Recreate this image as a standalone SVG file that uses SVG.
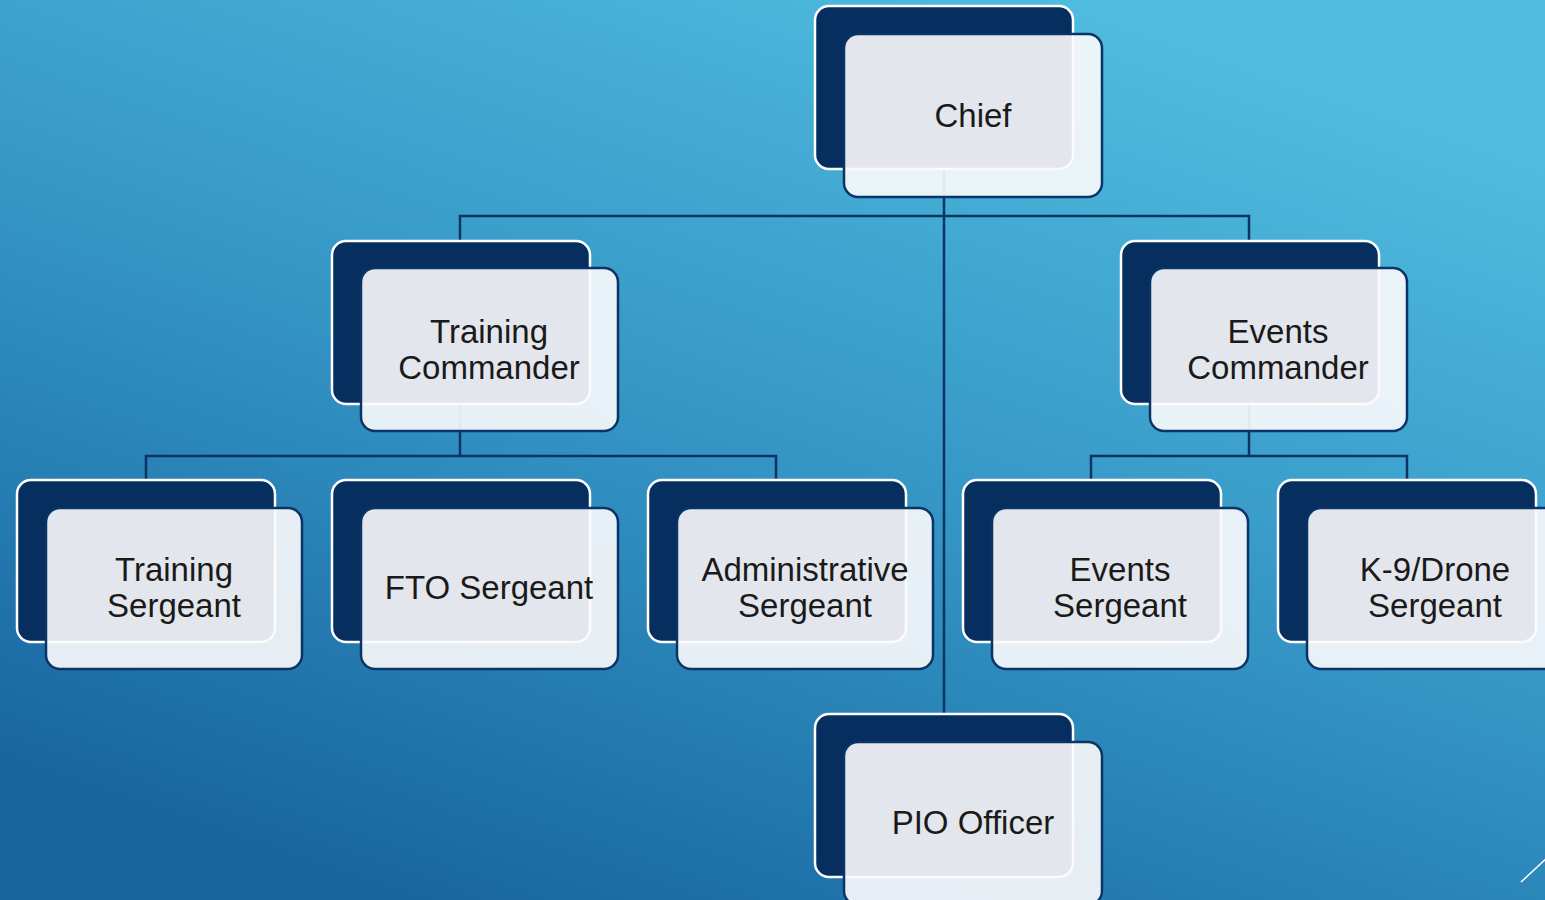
<svg xmlns="http://www.w3.org/2000/svg" width="1545" height="900" viewBox="0 0 1545 900">
  <defs>
    <linearGradient id="bg" gradientUnits="userSpaceOnUse" x1="950" y1="-60" x2="600" y2="960">
      <stop offset="0" stop-color="#50bddf"/>
      <stop offset="0.5" stop-color="#3596c6"/>
      <stop offset="1" stop-color="#1866a0"/>
    </linearGradient>
    <style>
      .back { fill: #062e5f; stroke: #ffffff; stroke-width: 2.5; }
      .front { fill: rgb(252,251,252); fill-opacity: 0.9; stroke: #0a3466; stroke-width: 2.5; }
      .lbl { font-family: "Liberation Sans", Arial, sans-serif; font-size: 33px; fill: #1a1a1a; text-anchor: middle; }
      .conn { fill: none; stroke: #0b3463; stroke-width: 2.5; }
    </style>
  </defs>

  <rect x="0" y="0" width="1545" height="900" fill="url(#bg)"/>
  <line x1="1521" y1="882" x2="1560" y2="846" stroke="#ffffff" stroke-width="1.5"/>

  <!-- reporting lines -->
  <g id="connectors">
    <path class="conn" d="M944 170 V713"/>
    <path class="conn" d="M460 241 V216 H1249 V241"/>
    <path class="conn" d="M460 404 V456"/>
    <path class="conn" d="M146 480 V456 H776 V480"/>
    <path class="conn" d="M1249 404 V456"/>
    <path class="conn" d="M1091 480 V456 H1407 V480"/>
  </g>

  <g id="chief">
    <rect class="back" x="815" y="6" width="258" height="163" rx="14"/>
    <rect class="front" x="844" y="34" width="258" height="163" rx="14"/>
    <text class="lbl" x="973" y="127">Chief</text>
  </g>

  <g id="training-commander">
    <rect class="back" x="332" y="241" width="258" height="163" rx="14"/>
    <rect class="front" x="361" y="268" width="257" height="163" rx="14"/>
    <text class="lbl" x="489" y="343">Training</text>
    <text class="lbl" x="489" y="379">Commander</text>
  </g>

  <g id="events-commander">
    <rect class="back" x="1121" y="241" width="258" height="163" rx="14"/>
    <rect class="front" x="1150" y="268" width="257" height="163" rx="14"/>
    <text class="lbl" x="1278" y="343">Events</text>
    <text class="lbl" x="1278" y="379">Commander</text>
  </g>

  <g id="training-sergeant">
    <rect class="back" x="17" y="480" width="258" height="162" rx="14"/>
    <rect class="front" x="46" y="508" width="256" height="161" rx="14"/>
    <text class="lbl" x="174" y="581">Training</text>
    <text class="lbl" x="174" y="617">Sergeant</text>
  </g>

  <g id="fto-sergeant">
    <rect class="back" x="332" y="480" width="258" height="162" rx="14"/>
    <rect class="front" x="361" y="508" width="257" height="161" rx="14"/>
    <text class="lbl" x="489" y="599">FTO Sergeant</text>
  </g>

  <g id="administrative-sergeant">
    <rect class="back" x="648" y="480" width="258" height="162" rx="14"/>
    <rect class="front" x="677" y="508" width="256" height="161" rx="14"/>
    <text class="lbl" x="805" y="581">Administrative</text>
    <text class="lbl" x="805" y="617">Sergeant</text>
  </g>

  <g id="events-sergeant">
    <rect class="back" x="963" y="480" width="258" height="162" rx="14"/>
    <rect class="front" x="992" y="508" width="256" height="161" rx="14"/>
    <text class="lbl" x="1120" y="581">Events</text>
    <text class="lbl" x="1120" y="617">Sergeant</text>
  </g>

  <g id="k9-drone-sergeant">
    <rect class="back" x="1278" y="480" width="258" height="162" rx="14"/>
    <rect class="front" x="1307" y="508" width="257" height="161" rx="14"/>
    <text class="lbl" x="1435" y="581">K-9/Drone</text>
    <text class="lbl" x="1435" y="617">Sergeant</text>
  </g>

  <g id="pio-officer">
    <rect class="back" x="815" y="714" width="258" height="163" rx="14"/>
    <rect class="front" x="844" y="742" width="258" height="163" rx="14"/>
    <text class="lbl" x="973" y="834">PIO Officer</text>
  </g>
</svg>
